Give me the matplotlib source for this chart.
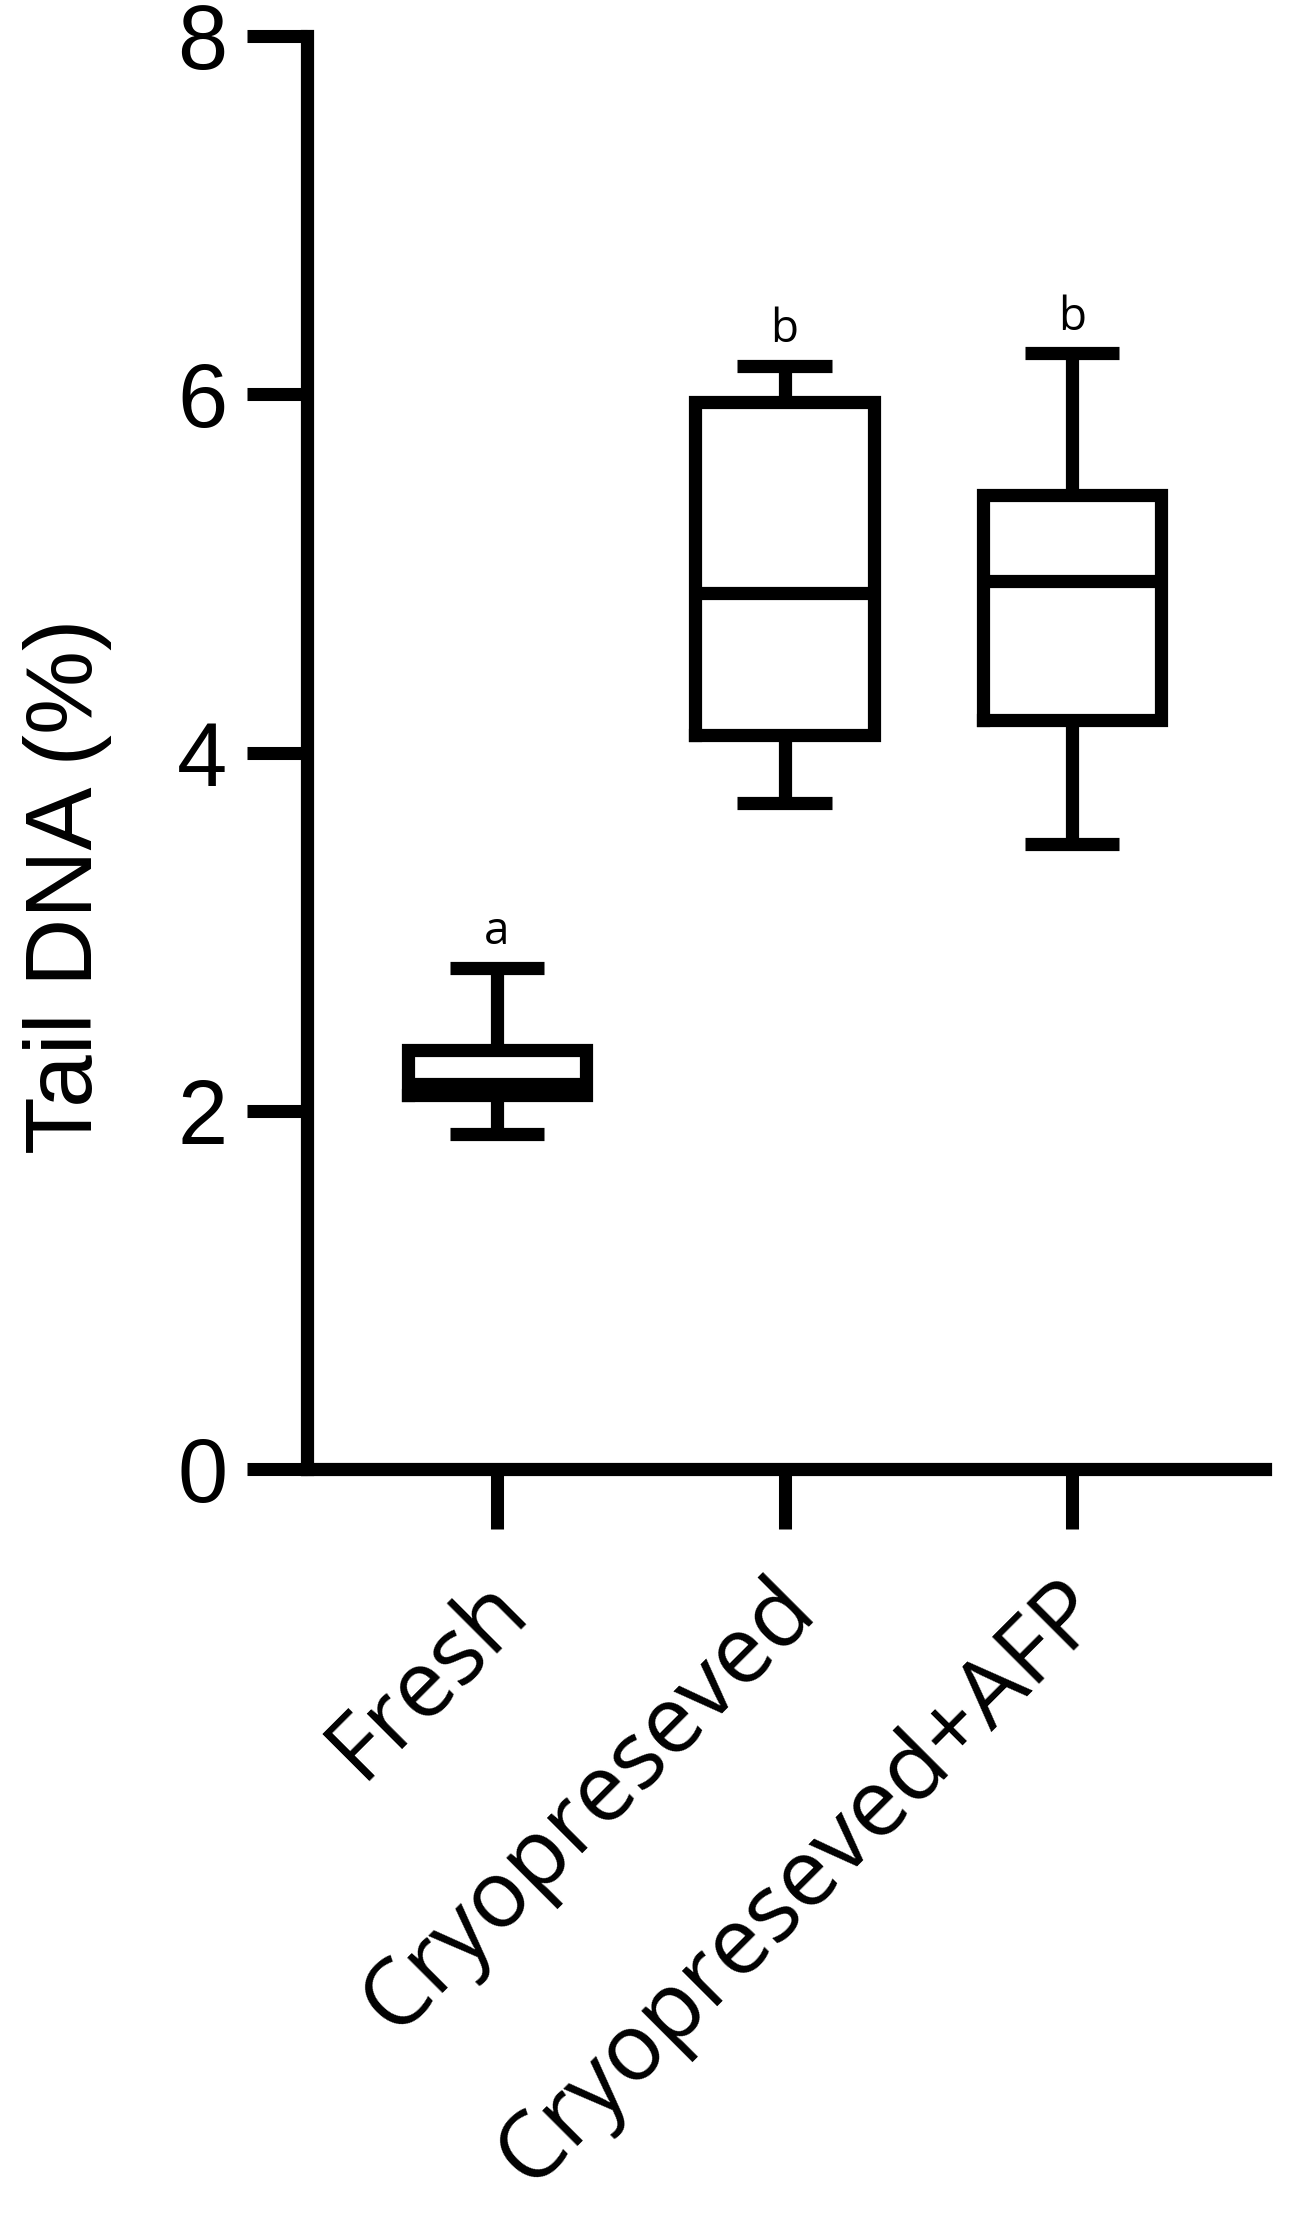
import matplotlib
matplotlib.use('Agg')
import matplotlib.pyplot as plt
import matplotlib.transforms as mtransforms

# box summary values
groups = ['Fresh', 'Cryopreseved', 'Cryopreseved+AFP']
whis_lo = [1.87, 3.72, 3.49]
q1 = [2.09, 4.10, 4.18]
med = [2.15, 4.89, 4.96]
q3 = [2.34, 5.96, 5.44]
whis_hi = [2.80, 6.16, 6.23]
letters = ['a', 'b', 'b']
yticks = [0, 2, 4, 6, 8]

LW = 9.5

stats = []
for g, lo, a, m, b, hi in zip(groups, whis_lo, q1, med, q3, whis_hi):
    stats.append(dict(label=g, whislo=lo, q1=a, med=m, q3=b, whishi=hi, fliers=[]))

fig = plt.figure(figsize=(12.95, 22.14), dpi=100)
ax = fig.add_axes([0.23668, 0.33627, 0.74054, 0.64747])

ax.bxp(stats, positions=[0, 1, 2], widths=0.62, capwidths=0.33, showfliers=False,
       boxprops=dict(color='black', linewidth=LW, solid_joinstyle='miter', solid_capstyle='projecting'),
       medianprops=dict(color='black', linewidth=LW, solid_capstyle='butt'),
       whiskerprops=dict(color='black', linewidth=LW, solid_capstyle='butt'),
       capprops=dict(color='black', linewidth=LW, solid_capstyle='butt'))

for i, (hi, lt) in enumerate(zip(whis_hi, letters)):
    ax.text(i, hi + 0.13, lt, ha='center', va='baseline', fontsize=33, family='Open Sans')

ax.set_xlim(-0.6626, 2.673)
ax.set_ylim(0, 8)
for s in ['top', 'right']:
    ax.spines[s].set_visible(False)
for s in ['left', 'bottom']:
    ax.spines[s].set_linewidth(LW)
    ax.spines[s].set_capstyle('projecting')

ax.set_yticks(yticks)
ax.set_yticklabels([str(t) for t in yticks], fontsize=65, family='Liberation Sans')
ax.set_xticks([0, 1, 2])
ax.set_xticklabels(groups, rotation=45, ha='right', va='center', rotation_mode='anchor',
                   fontsize=67, family='Open Sans')
ax.tick_params(axis='both', length=43, width=9.4, direction='out', color='black')
ax.tick_params(axis='y', pad=14)
ax.tick_params(axis='x', pad=30)

# nudge the slanted labels right and down a little
shift = mtransforms.ScaledTranslation(16 / 100, -24 / 100, fig.dpi_scale_trans)
for lab in ax.get_xticklabels():
    lab.set_transform(lab.get_transform() + shift)

fig.text(0.0525, 0.5995, 'Tail DNA (%)', rotation=90, ha='center', va='center',
         fontsize=68, family='Liberation Sans')

fig.savefig('out.png', dpi=100)
